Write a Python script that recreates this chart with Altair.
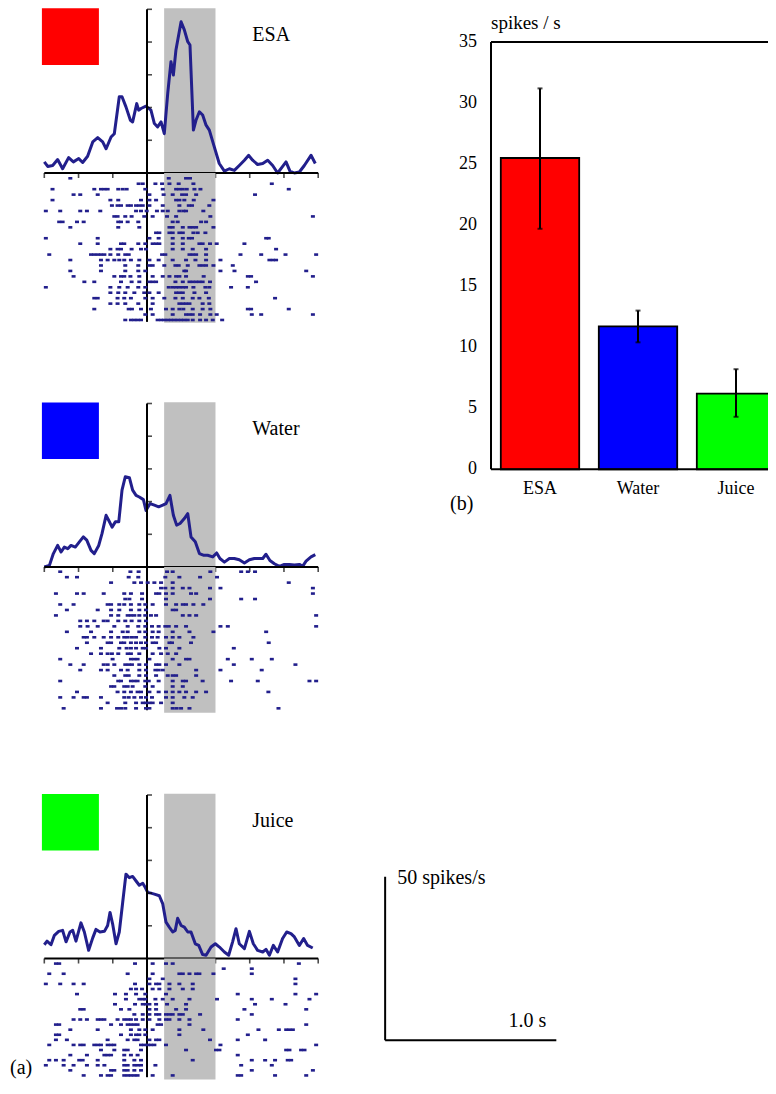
import altair as alt
import pandas as pd

FONT = "Liberation Serif"
NAVY = "#221f8c"
GRAY = "#c0c0c0"
BLACK = "#000000"

# ---------------- data ----------------
TIME_DOMAIN = [-600, 1000]          # ms, relative to cue onset
TIME_TICKS = [-600, -400, -200, 0, 200, 400, 600, 800, 1000]
RATE_TICKS = [10, 20, 30, 40, 50]
STIM_WINDOW = [100, 400]            # ms, shaded analysis window

conditions = ["ESA", "Water", "Juice"]
condition_colors = ["#ff0000", "#0000ff", "#00ff00"]

esa_t = [-600, -580, -551, -522, -493, -458, -430, -399, -376, -347, -317, -288, -259, -239, -210, -191,
         -162, -146, -123, -97, -84, -60, -49, -35, -6, 23, 43, 62, 82, 101, 121, 140, 154, 169, 199, 218,
         238, 251, 271, 286, 306, 325, 345, 364, 393, 422, 452, 481, 510, 539, 569, 594, 617, 646, 676,
         705, 734, 763, 789, 812, 835, 861, 890, 919, 958, 983]
esa_rate = [3.4, 2.0, 2.3, 4.1, 1.3, 4.7, 3.4, 4.4, 3.2, 5.1, 9.5, 10.8, 9.5, 7.4, 11.0, 12.0,
            23.3, 23.3, 20.2, 16.1, 15.6, 21.2, 19.2, 19.7, 20.4, 19.2, 15.1, 14.1, 15.6, 12.0, 24.3, 34.0,
            29.9, 37.6, 46.2, 43.7, 40.1, 39.1, 13.1, 16.1, 18.7, 17.7, 14.6, 13.1, 8.0, 2.9, 0.6, 1.3, 0.8,
            2.3, 3.9, 5.4, 3.9, 2.6, 2.9, 3.9, 2.3, 0.0, 1.8, 3.4, 0.6, 0.0, 0.3, 2.3, 5.4, 2.9]

water_t = [-600, -570, -547, -522, -502, -483, -463, -444, -419, -395, -372, -352, -327, -308, -282, -263,
           -239, -224, -204, -185, -165, -146, -127, -103, -84, -64, -45, -21, -6, 18, 43, 68, 92, 111, 134,
           154, 173, 193, 218, 238, 257, 282, 306, 329, 354, 384, 407, 426, 452, 481, 510, 539, 569, 598,
           627, 676, 695, 718, 744, 773, 802, 831, 861, 890, 909, 929, 958, 983]
water_rate = [0.0, 0.5, 4.1, 6.6, 4.6, 6.1, 5.6, 6.6, 6.1, 7.7, 9.2, 8.2, 5.1, 4.1, 6.6, 10.2,
              15.8, 14.3, 12.2, 13.8, 13.8, 23.5, 27.6, 27.3, 23.5, 21.9, 21.4, 20.6, 17.3, 19.4, 18.9,
              18.4, 18.9, 19.4, 21.9, 15.8, 12.8, 13.3, 14.8, 16.3, 9.2, 7.7, 4.1, 3.6, 3.6, 3.1, 4.3, 2.6,
              1.5, 2.6, 2.6, 2.2, 1.2, 2.2, 2.6, 2.6, 3.9, 2.0, 1.0, 0.2, 0.8, 0.8, 0.6, 0.8, 0.2, 1.8, 3.1, 3.8]

juice_t = [-600, -584, -561, -541, -516, -493, -473, -450, -434, -415, -386, -366, -341, -317, -298, -275,
           -249, -230, -216, -201, -181, -162, -142, -123, -103, -84, -64, -45, -25, -10, 4, 23, 43, 72, 92,
           111, 130, 150, 165, 179, 199, 218, 238, 257, 282, 302, 325, 345, 374, 399, 423, 452, 477, 500,
           520, 539, 569, 598, 621, 646, 676, 695, 715, 738, 763, 792, 816, 841, 861, 890, 915, 938, 968]
juice_rate = [4.2, 5.3, 4.2, 7.1, 8.3, 8.6, 5.1, 8.1, 8.6, 5.3, 10.9, 8.1, 2.5, 6.3, 8.9, 8.1,
              8.3, 10.1, 14.1, 10.6, 4.5, 8.1, 17.2, 25.8, 24.7, 25.1, 23.7, 22.4, 23.0, 21.7, 20.2, 20.0,
              19.7, 19.2, 16.7, 11.1, 9.6, 8.1, 8.6, 12.3, 10.1, 9.6, 8.1, 8.1, 4.5, 4.0, 1.2, 1.0, 3.5, 4.5,
              3.5, 2.0, 1.0, 5.1, 9.1, 4.5, 3.0, 8.3, 4.5, 2.5, 2.0, 2.8, 1.0, 4.0, 2.0, 6.1, 8.1, 7.6, 6.6,
              4.0, 6.1, 4.0, 3.2]

# spike times (ms) per trial
esa_trials = [
    [-448, 127, 228, 251],
    [-49, -25, 49, 88, 131, 185, 271, 729],
    [-552, -308, -269, -249, -230, -168, -142, -119, -10, 92, 170, 189, 209, 232, 277, 312, 828],
    [-429, -390, -288, 14, 97, 150, 205, 228, 287, 631],
    [-552, -214, -168, -35, 14, 53, 170, 189, 218, 273, 388],
    [-205, -172, -152, -113, -94, -64, -45, -25, 14, 92, 189, 244, 263, 364],
    [-591, -507, -390, -351, -273, -64, -35, -2, 58, 92, 121, 189, 212, 228, 329],
    [-191, -172, -127, -90, -16, 33, 117, 170, 370, 969],
    [-513, -493, -409, -370, -168, -152, -113, -51, 150, 179, 316, 345],
    [-448, -168, -45, 131, 150, 209, 248, 267, 287, 388],
    [53, 72, 131, 150, 189, 209, 271, 296, 341],
    [-591, -288, 14, 68, 150, 209, 244, 263, 696, 711],
    [-390, -288, -152, -133, -51, -10, 33, 53, 72, 150, 209, 306, 325, 368, 407, 569],
    [-214, -172, -152, -90, -35, -6, 150, 209, 267, 345, 754],
    [-571, -327, -308, -288, -269, -249, -214, -168, -127, -107, 88, 107, 248, 267, 287, 345, 546, 667, 809, 988],
    [-448, -269, -230, -191, -162, -133, -94, -45, 14, 68, 150, 228, 283, 345, 429, 715, 735, 754],
    [-269, -127, -51, 14, 33, 101, 166, 185, 238, 306, 325, 345, 388, 501],
    [-448, -269, -127, -51, -10, 218, 228, 429, 511, 930],
    [-429, -191, -152, -133, -97, -45, 33, 92, 131, 170, 189, 228, 331, 589, 608, 969],
    [-366, -308, -152, -90, -45, 14, 33, 53, 166, 209, 248, 267, 287, 306, 325, 368, 637],
    [-591, -214, -162, -113, -51, -10, 127, 150, 170, 189, 209, 228, 271, 341, 364, 491, 589],
    [-214, -168, -127, -74, -16, 14, 68, 170, 189, 209, 277, 345],
    [-308, -288, -172, -133, -94, -10, 33, 101, 166, 209, 267, 306, 361, 748],
    [-214, -172, -127, -51, 33, 189, 209, 228, 248, 325, 364],
    [-308, -107, -88, -35, 23, 111, 150, 189, 212, 267, 325, 370, 589, 608, 828],
    [-10, 33, 150, 228, 248, 267, 310, 370, 407, 612, 667, 969],
    [-127, -94, -74, -55, -35, 62, 82, 101, 121, 140, 160, 179, 199, 218, 238, 267, 310, 345, 384, 439],
]

water_trials = [
    [-507, -97, -49, 117, 150, 370, 550, 589, 631],
    [-468, -409, -107, -51, 107, 189, 310, 409],
    [-210, -74, -35, 4, 43, 82, 150, 828],
    [82, 107, 150, 209, 248, 368, 429, 969],
    [-532, -409, -370, -253, -133, -94, -29, 53, 72, 111, 150, 257, 287, 969],
    [-127, -103, -29, 111, 368, 550, 631],
    [-507, -429, -230, -210, -162, -133, -94, -45, -10, 33, 111, 170, 209, 228, 271, 329],
    [-468, -288, -210, -162, -94, -45, -6, 150, 170],
    [-532, -210, -168, -113, -94, -74, -45, -10, 23, 53, 209, 248, 287, 988],
    [-390, -351, -308, -253, -230, -168, -127, -90, -45, -6],
    [-390, -347, -288, -191, -113, -51, -10, 29, 68, 107, 127, 170, 228, 429, 472, 988],
    [-468, -327, -210, -142, -113, -45, -10, 33, 68, 150, 248, 388, 696],
    [-370, -351, -308, -253, -210, -168, -133, -113, -88, -64, -10, 29, 62, 111, 150, 189, 271],
    [-351, -230, -210, -152, -133, -94, -64, -35, -6, 33, 53, 131, 146, 257, 711],
    [-409, -269, -162, -119, -94, -64, -25, -6, 72, 111, 189, 507],
    [-327, -269, -230, -205, -168, -113, -94, -45, 33, 82, 121, 170],
    [-507, -201, -94, -74, -55, 14, 150, 228, 248, 472, 612, 729],
    [-448, -370, -253, -230, -191, -127, -107, -88, -45, -6, 53, 72, 111, 189, 507, 867],
    [-390, -269, -230, -152, -113, -45, -6, 49, 68, 92, 287, 429, 670],
    [-191, -127, -107, -45, -6, 53, 121, 150, 170, 287],
    [-507, -168, -152, -94, -74, -55, -10, 10, 68, 150, 209, 228, 325, 491, 647, 949, 988],
    [-210, -191, -133, -113, -84, -10, 33, 150, 209],
    [-409, -172, -133, -94, -55, -35, 14, 68, 111, 150, 189, 228, 287, 345, 709],
    [-507, -429, -370, -351, -269, -133, -107, -74, -35, -6, 29, 111, 150, 218, 267],
    [-230, -127, -64, -25, -6, 14, 33, 82, 150],
    [-487, -269, -175, -152, -127, -64, -6, 14, 150, 173, 199, 248, 768],
]

juice_trials = [
    [-532, -513, -70, 33, 111, 150, 887],
    [448, 612],
    [-571, -487, -113, 33, 189, 209, 248, 287, 306, 388, 612],
    [14, 92, 867],
    [-591, -507, -429, -370, -70, 14, 53, 72, 131, 189, 267, 867],
    [-94, -64, -29, 33, 72, 131, 209, 267],
    [-409, -187, -123, -64, -10, 111, 530, 867, 988],
    [-123, -45, -25, -10, 49, 92, 150, 248, 409, 612, 729, 949],
    [-187, -70, -25, -6, 14, 53, 117, 228, 631, 809],
    [-390, -370, -152, -103, 14, 53, 170, 228, 569, 930],
    [-74, -25, 14, 53, 72, 111, 131, 150, 189, 209, 310, 612],
    [-429, -390, -351, -288, -269, -249, -172, -133, -113, -94, -64, -25, 14, 72, 111, 131, 189, 248, 530],
    [-532, -513, -210, -152, -113, -94, -74, -55, 62, 82, 248, 930],
    [-448, -288, -94, -45, -10, 33, 189, 329, 651, 770, 813, 832, 852],
    [-532, -513, -152, -94, -64, -45, -10, 189, 589],
    [-532, -468, -230, -113, -74, -55, 14, 53, 72, 368, 530, 690],
    [-571, -429, -390, -370, -308, -288, -269, -230, -210, -191, -35, -16, 4, 23, 43, 111, 429, 988],
    [-269, -191, -133, -113, -35, 228, 403, 423, 813, 832, 900, 920],
    [-448, -351, -249, -230, -210, -133, -94, -55, 530],
    [-571, -532, -487, -396, -376, -288, -133, -74, -35, 267, 612, 690, 748, 822, 842],
    [-591, -487, -429, -351, -288, -249, -133, -113, -74, -55, -35, 49, 550, 729],
    [-448, -210, -191, -133, -113, -74, -35, 612, 969],
    [-370, -269, -230, -210, -133, -113, -94, -74, -55, 33, 150, 530, 550, 748, 930],
]

# bar chart (panel b)
bar_means = [25.5, 11.7, 6.2]
bar_err_low = [19.7, 10.4, 4.3]
bar_err_high = [31.2, 13.0, 8.2]
bar_ticks = [0, 5, 10, 15, 20, 25, 30, 35]

# scale bar
SCALEBAR_TIME = 1000   # ms  (1.0 s)
SCALEBAR_RATE = 50     # spikes/s

# ---------------- layout (pixels inside the chart) ----------------
CHART_W = 760
CHART_H = 1072
X_RANGE = [36.3, 310.2]
panels = [
    dict(name="ESA", color=condition_colors[0], t=esa_t, r=esa_rate, trials=esa_trials,
         psth_range=[165.0, 1.3], raster_range=[165.0, 314.7], raster_domain=[-0.97, 26.5]),
    dict(name="Water", color=condition_colors[1], t=water_t, r=water_rate, trials=water_trials,
         psth_range=[559.0, 395.5], raster_range=[559.0, 704.7], raster_domain=[-0.86, 25.8]),
    dict(name="Juice", color=condition_colors[2], t=juice_t, r=juice_rate, trials=juice_trials,
         psth_range=[950.5, 787.0], raster_range=[950.5, 1071.5], raster_domain=[-1.0, 22.8]),
]


def one(**kw):
    return pd.DataFrame({k: [v] for k, v in kw.items()})


def psth_group(p, last):
    xs = alt.Scale(domain=TIME_DOMAIN, range=X_RANGE, nice=False, zero=False)
    ys = alt.Scale(domain=[0, 50], range=p["psth_range"], nice=False, zero=False)

    def X(f):
        return alt.X(f, type="quantitative", scale=xs, axis=None)

    def Y(f):
        return alt.Y(f, type="quantitative", scale=ys, axis=None)

    band = alt.Chart(one(a=STIM_WINDOW[0], b=STIM_WINDOW[1], lo=0, hi=50.35)).mark_rect(
        color=GRAY).encode(x=X("a"), x2="b", y=Y("lo"), y2="hi")
    square = alt.Chart(one(a=-614, b=-281, lo=33.0, hi=50.3)).mark_rect(
        color=p["color"]).encode(x=X("a"), x2="b", y=Y("lo"), y2="hi")
    line = alt.Chart(pd.DataFrame({"t": p["t"], "r": p["r"]})).mark_line(
        color=NAVY, strokeWidth=3, strokeJoin="round").encode(x=X("t"), y=Y("r"), order="t:Q")
    xaxis = alt.Chart(one(a=TIME_DOMAIN[0], b=TIME_DOMAIN[1], y=0)).mark_rule(
        color=BLACK, strokeWidth=2).encode(x=X("a"), x2="b", y=Y("y"))
    yaxis = alt.Chart(one(x=0, lo=0, hi=50)).mark_rule(
        color=BLACK, strokeWidth=2).encode(x=X("x"), y=Y("lo"), y2="hi")
    xticks = alt.Chart(pd.DataFrame({"t": TIME_TICKS, "y": 0})).mark_tick(
        orient="vertical", size=5, thickness=1.6, color=BLACK, yOffset=2.5).encode(x=X("t"), y=Y("y"))
    yticks = alt.Chart(pd.DataFrame({"r": RATE_TICKS, "x": 0})).mark_tick(
        orient="horizontal", size=5, thickness=1.6, color=BLACK, xOffset=2.5).encode(x=X("x"), y=Y("r"))
    label = alt.Chart(one(x=615, y=40.3, s=p["name"])).mark_text(
        font=FONT, fontSize=20, align="left", baseline="alphabetic", color=BLACK).encode(
        x=X("x"), y=Y("y"), text="s:N")
    layers = [band, square, line, xaxis, yaxis, xticks, yticks, label]
    if last:
        x0 = 1391
        y0 = -SCALEBAR_RATE / 2
        vbar = alt.Chart(one(x=x0, lo=y0, hi=y0 + SCALEBAR_RATE)).mark_rule(
            color=BLACK, strokeWidth=2).encode(x=X("x"), y=Y("lo"), y2="hi")
        hbar = alt.Chart(one(a=x0, b=x0 + SCALEBAR_TIME, y=y0)).mark_rule(
            color=BLACK, strokeWidth=2).encode(x=X("a"), x2="b", y=Y("y"))
        t1 = alt.Chart(one(x=x0, y=y0 + SCALEBAR_RATE, s="50 spikes/s")).mark_text(
            font=FONT, fontSize=20, align="left", baseline="alphabetic", dx=12, dy=7, color=BLACK).encode(
            x=X("x"), y=Y("y"), text="s:N")
        t2 = alt.Chart(one(x=x0 + SCALEBAR_TIME, y=y0, s="1.0 s")).mark_text(
            font=FONT, fontSize=20, align="right", baseline="alphabetic", dx=-10, dy=-13, color=BLACK).encode(
            x=X("x"), y=Y("y"), text="s:N")
        layers += [vbar, hbar, t1, t2]
    return alt.layer(*layers)


def raster_group(p, last):
    xs = alt.Scale(domain=TIME_DOMAIN, range=X_RANGE, nice=False, zero=False)
    ys = alt.Scale(domain=p["raster_domain"], range=p["raster_range"], nice=False, zero=False)

    def X(f):
        return alt.X(f, type="quantitative", scale=xs, axis=None)

    def Y(f):
        return alt.Y(f, type="quantitative", scale=ys, axis=None)

    n = len(p["trials"])
    rows = [(t, i) for i, trial in enumerate(p["trials"]) for t in trial]
    spikes = pd.DataFrame(rows, columns=["t", "trial"])
    band = alt.Chart(one(a=STIM_WINDOW[0], b=STIM_WINDOW[1], lo=p["raster_domain"][0],
                         hi=p["raster_domain"][1])).mark_rect(color=GRAY).encode(
        x=X("a"), x2="b", y=Y("lo"), y2="hi")
    vline = alt.Chart(one(x=0, lo=p["raster_domain"][0], hi=n - 1 + 0.35)).mark_rule(
        color=BLACK, strokeWidth=2).encode(x=X("x"), y=Y("lo"), y2="hi")
    dots = alt.Chart(spikes).mark_tick(orient="horizontal", size=4.0, thickness=2.6, color=NAVY,
                                       opacity=1).encode(x=X("t"), y=Y("trial"))
    layers = [band, vline, dots]
    if last:
        lab = alt.Chart(one(x=-800, y=n - 1, s="(a)")).mark_text(
            font=FONT, fontSize=20, align="left", baseline="alphabetic", dy=-1, color=BLACK).encode(
            x=X("x"), y=Y("y"), text="s:N")
        layers.append(lab)
    return alt.layer(*layers)


def bar_group():
    xs = alt.Scale(domain=[0, 2.908], range=[483, 768], nice=False, zero=False)
    ys = alt.Scale(domain=[0, 35], range=[461.3, 34], nice=False, zero=False)

    def X(f):
        return alt.X(f, type="quantitative", scale=xs, axis=None)

    def Y(f):
        return alt.Y(f, type="quantitative", scale=ys, axis=None)

    df = pd.DataFrame({"cond": conditions, "i": [0, 1, 2], "mean": bar_means,
                       "lo": bar_err_low, "hi": bar_err_high, "col": condition_colors})
    base = alt.Chart(df).transform_calculate(
        x0="datum.i + 0.1", x1="datum.i + 0.9", xc="datum.i + 0.5", zero="0")
    bars = base.mark_rect(stroke=BLACK, strokeWidth=1.8, clip=True).encode(
        x=X("x0"), x2="x1", y=Y("zero"), y2="mean", fill=alt.Fill("col:N", scale=None))
    err = base.mark_rule(color=BLACK, strokeWidth=2).encode(x=X("xc"), y=Y("lo"), y2="hi")
    caps = base.transform_fold(["lo", "hi"], as_=["k", "v"]).mark_tick(
        orient="horizontal", size=5, thickness=2, color=BLACK).encode(x=X("xc"), y=Y("v"))
    names = base.mark_text(font=FONT, fontSize=18, align="center", baseline="alphabetic",
                           dy=25, color=BLACK).encode(x=X("xc"), y=Y("zero"), text="cond:N")
    left = alt.Chart(one(x=0, lo=0, hi=35)).mark_rule(color=BLACK, strokeWidth=2).encode(
        x=X("x"), y=Y("lo"), y2="hi")
    edges = alt.Chart(pd.DataFrame({"a": [0, 0], "b": [2.908, 2.908], "y": [0, 35]})).mark_rule(
        color=BLACK, strokeWidth=2, clip=True).encode(x=X("a"), x2="b", y=Y("y"))
    ticks = alt.Chart(pd.DataFrame({"v": bar_ticks, "x": 0})).mark_text(
        font=FONT, fontSize=18, align="right", baseline="middle", dx=-14, color=BLACK).encode(
        x=X("x"), y=Y("v"), text="v:Q")
    unit = alt.Chart(one(x=0, y=35, s="spikes / s")).mark_text(
        font=FONT, fontSize=19, align="left", baseline="alphabetic", dy=-13, color=BLACK).encode(
        x=X("x"), y=Y("y"), text="s:N")
    tag = alt.Chart(one(x=0, y=0, s="(b)")).mark_text(
        font=FONT, fontSize=20, align="left", baseline="alphabetic", dx=-41, dy=41, color=BLACK).encode(
        x=X("x"), y=Y("y"), text="s:N")
    return alt.layer(bars, err, caps, left, edges, ticks, names, unit, tag)


groups = []
for k, p in enumerate(panels):
    last = k == len(panels) - 1
    groups.append(psth_group(p, last))
    groups.append(raster_group(p, last))
groups.append(bar_group())

chart = alt.layer(*groups).resolve_scale(x="independent", y="independent").properties(
    width=CHART_W, height=CHART_H, padding=0, background="white"
).configure_view(stroke=None, strokeWidth=0)

chart.save("out.html", embed_options={"renderer": "svg", "actions": False})
